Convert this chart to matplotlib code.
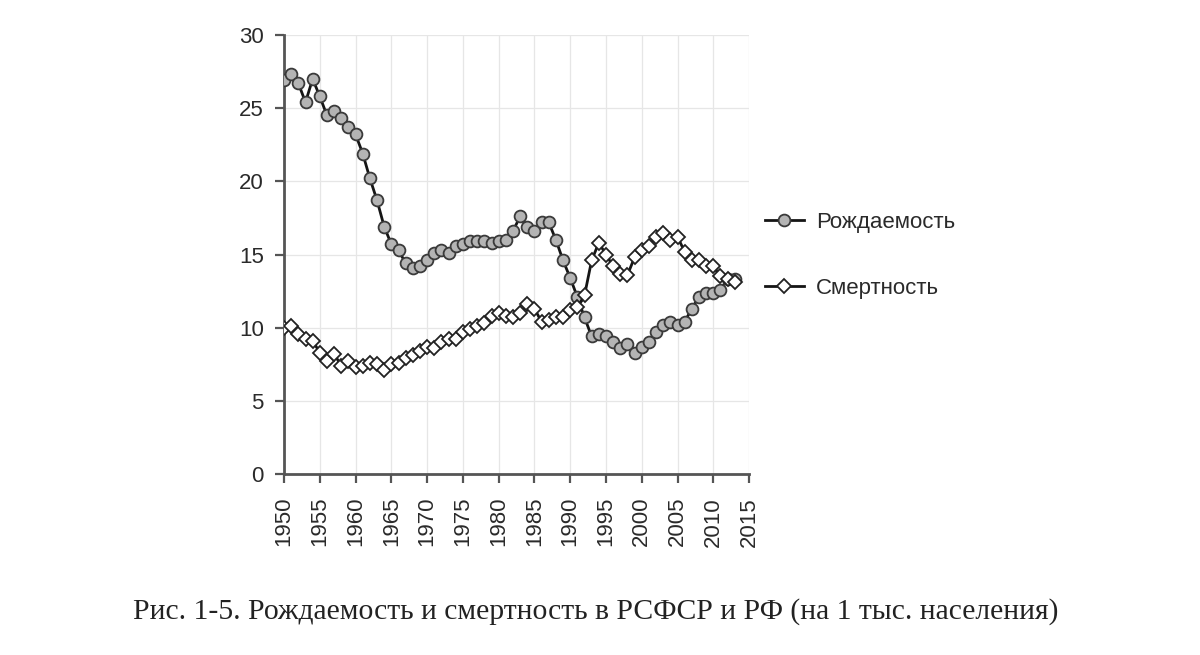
import matplotlib.pyplot as plt
import numpy as np

years = list(range(1950, 2014))

birth = [26.9, 27.3, 26.7, 25.4, 27.0, 25.8, 24.5, 24.8, 24.3, 23.7,
         23.2, 21.9, 20.2, 18.7, 16.9, 15.7, 15.3, 14.4, 14.1, 14.2,
         14.6, 15.1, 15.3, 15.1, 15.6, 15.7, 15.9, 15.9, 15.9, 15.8,
         15.9, 16.0, 16.6, 17.6, 16.9, 16.6, 17.2, 17.2, 16.0, 14.6,
         13.4, 12.1, 10.7, 9.4, 9.6, 9.4, 9.0, 8.6, 8.9, 8.3,
         8.7, 9.0, 9.7, 10.2, 10.4, 10.2, 10.4, 11.3, 12.1, 12.4,
         12.4, 12.6, 13.3, 13.3]

death = [10.0, 10.1, 9.6, 9.2, 9.1, 8.3, 7.7, 8.2, 7.4, 7.7,
         7.3, 7.4, 7.6, 7.5, 7.1, 7.5, 7.6, 7.9, 8.1, 8.4,
         8.7, 8.6, 9.0, 9.2, 9.2, 9.7, 9.9, 10.1, 10.3, 10.8,
         11.0, 10.8, 10.7, 11.0, 11.6, 11.3, 10.4, 10.5, 10.7, 10.7,
         11.2, 11.4, 12.2, 14.6, 15.8, 15.0, 14.2, 13.7, 13.6, 14.8,
         15.3, 15.6, 16.2, 16.5, 16.0, 16.2, 15.2, 14.6, 14.6, 14.2,
         14.2, 13.5, 13.3, 13.1]

labels = ['Рождаемость', 'Смертность']
caption = 'Рис. 1-5. Рождаемость и смертность в РСФСР и РФ (на 1 тыс. населения)'

plt.rcParams['font.family'] = ['Liberation Sans', 'DejaVu Sans']

fig = plt.figure(figsize=(12, 6.55), dpi=100)
ax = fig.add_axes([0.2367, 0.2763, 0.3875, 0.6703])

ax.plot(years, birth, color='#151515', lw=2.0, marker='o', markersize=8.5,
        markerfacecolor='#b4b4b4', markeredgecolor='#3a3a3a', markeredgewidth=1.3,
        label=labels[0], zorder=3)
ax.plot(years, death, color='#151515', lw=2.0, marker='D', markersize=7,
        markerfacecolor='white', markeredgecolor='#222222', markeredgewidth=1.3,
        label=labels[1], zorder=3)

ax.set_xlim(1950, 2015)
ax.set_ylim(0, 30)
ax.set_xticks(range(1950, 2016, 5))
ax.set_yticks(range(0, 31, 5))
ax.grid(True, color='#e6e6e6', lw=0.9)
ax.set_axisbelow(True)

for s in ['top', 'right']:
    ax.spines[s].set_visible(False)
for s in ['left', 'bottom']:
    ax.spines[s].set_color('#555555')
    ax.spines[s].set_linewidth(2)

ax.tick_params(axis='both', colors='#555555', width=1.6, length=6.5,
               labelcolor='#2a2a2a', labelsize=16)
ax.tick_params(axis='x', labelrotation=90, pad=10)
ax.tick_params(axis='y', pad=8)

fig.legend(loc='upper left', bbox_to_anchor=(0.6375, 0.677),
           bbox_transform=fig.transFigure, frameon=False, fontsize=16,
           borderpad=0, borderaxespad=0, handlelength=1.75, handletextpad=0.55,
           labelspacing=2.05, labelcolor='#2a2a2a')

fig.text(0.496, 0.066, caption, ha='center', va='center',
         family=['Liberation Serif', 'DejaVu Serif'], fontsize=21.3, color='#222222')

fig.savefig('out.png', dpi=100)
